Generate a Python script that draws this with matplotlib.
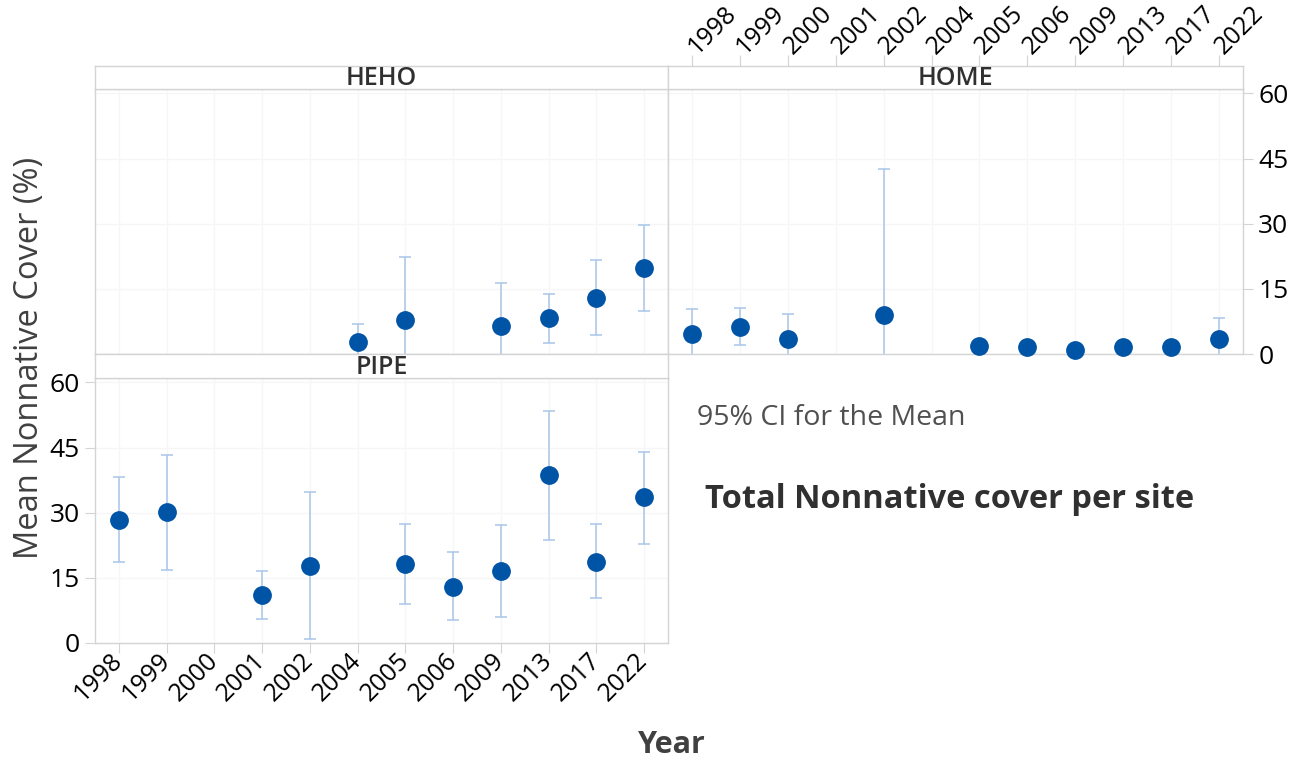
import numpy as np
import matplotlib
matplotlib.use("Agg")
import matplotlib.pyplot as plt

plt.rcParams['font.family'] = ['Open Sans', 'DejaVu Sans']

# ---------------- data ----------------
years = ["1998", "1999", "2000", "2001", "2002", "2004",
         "2005", "2006", "2009", "2013", "2017", "2022"]

nan = np.nan
heho_mean = [nan, nan, nan, nan, nan, 2.7, 7.9, nan, 6.5, 8.2, 13.0, 19.9]
heho_lo   = [nan, nan, nan, nan, nan, -1.4, -6.5, nan, -3.3, 2.5, 4.4, 10.0]
heho_hi   = [nan, nan, nan, nan, nan, 6.8, 22.3, nan, 16.3, 13.9, 21.7, 29.8]

home_mean = [4.6, 6.2, 3.4, nan, 9.0, nan, 1.8, 1.5, 0.9, 1.5, 1.5, 3.4]
home_lo   = [-1.1, 2.1, -2.4, nan, -24.5, nan, nan, nan, nan, nan, nan, -1.5]
home_hi   = [10.3, 10.5, 9.2, nan, 42.5, nan, nan, nan, nan, nan, nan, 8.3]

pipe_mean = [28.4, 30.1, nan, 11.0, 17.7, nan, 18.1, 13.0, 16.6, 38.6, 18.7, 33.5]
pipe_lo   = [18.6, 16.9, nan, 5.6, 1.0, nan, 9.0, 5.4, 6.1, 23.8, 10.3, 22.9]
pipe_hi   = [38.3, 43.3, nan, 16.5, 34.7, nan, 27.4, 20.9, 27.1, 53.4, 27.3, 44.0]

y_ticks = [0, 15, 30, 45, 60]

# ---------------- style ----------------
W, H = 1300, 763
dot_color = '#0054a6'
bar_color = '#a9c6e8'
frame_color = '#d4d4d4'
grid_color = '#f6f6f6'
tick_fs = 18


def fr(x0, y0, x1, y1):
    # pixel box -> figure fraction rect
    return [x0 / W, 1 - y1 / H, (x1 - x0) / W, (y1 - y0) / H]


def draw_panel(ax, mean, lo, hi):
    x = np.arange(len(years))
    mean = np.array(mean); lo = np.array(lo); hi = np.array(hi)
    ax.set_xlim(-0.5, len(years) - 0.5)
    ax.set_ylim(0, 61)
    ax.set_xticks(x)
    ax.set_yticks(y_ticks)
    ax.grid(True, color=grid_color, lw=0.9)
    ax.set_axisbelow(True)
    for s in ax.spines.values():
        s.set_color(frame_color)
        s.set_linewidth(1.0)
    ax.tick_params(length=0, labelbottom=False, labelleft=False)

    m = ~np.isnan(lo)
    ax.errorbar(x[m], mean[m], yerr=[mean[m] - lo[m], hi[m] - mean[m]],
                fmt='none', ecolor=bar_color, elinewidth=1.1, capsize=4,
                capthick=1.1, zorder=2)
    k = ~np.isnan(mean)
    ax.plot(x[k], mean[k], 'o', ms=12.5, color=dot_color, mec=dot_color,
            clip_on=False, zorder=3)


def strip(rect, label):
    sa = fig.add_axes(rect)
    sa.set_xlim(-0.5, len(years) - 0.5)
    sa.set_ylim(0, 1)
    sa.set_yticks([])
    sa.set_xticks([])
    for s in sa.spines.values():
        s.set_color(frame_color)
        s.set_linewidth(1.0)
    sa.text(0.5, 0.45, label, transform=sa.transAxes, ha='center', va='center',
            fontsize=18, fontweight='semibold', color='#303030')
    return sa


fig = plt.figure(figsize=(W / 100, H / 100), dpi=100)
fig.patch.set_facecolor('white')

ax_heho = fig.add_axes(fr(95, 89, 668, 354))
ax_home = fig.add_axes(fr(668, 89, 1243, 354))
ax_pipe = fig.add_axes(fr(95, 378, 668, 643))

draw_panel(ax_heho, heho_mean, heho_lo, heho_hi)
draw_panel(ax_home, home_mean, home_lo, home_hi)
draw_panel(ax_pipe, pipe_mean, pipe_lo, pipe_hi)

strip(fr(95, 66, 668, 89), "HEHO")
home_strip = strip(fr(668, 66, 1243, 89), "HOME")
strip(fr(95, 354, 668, 378), "PIPE")

# HOME: year labels on top of its strip, y labels on the right
home_strip.set_xticks(np.arange(len(years)))
home_strip.set_xticklabels(years)
home_strip.tick_params(axis='x', top=True, labeltop=True, bottom=False,
                       labelbottom=False, direction='out', length=8,
                       color=frame_color, labelsize=tick_fs, pad=3)
for t in home_strip.get_xticklabels():
    t.set_rotation(45)
    t.set_ha('left')
    t.set_va('center')
    t.set_rotation_mode('anchor')

ax_home.tick_params(axis='y', right=True, labelright=True, left=False,
                    direction='out', length=7, color=frame_color,
                    labelsize=tick_fs + 1, pad=4)

# PIPE: years on bottom, y labels on the left
ax_pipe.set_xticklabels(years)
ax_pipe.tick_params(axis='x', bottom=True, labelbottom=True, direction='out',
                    length=7, color=frame_color, labelsize=tick_fs, pad=3)
for t in ax_pipe.get_xticklabels():
    t.set_rotation(45)
    t.set_ha('right')
    t.set_va('center')
    t.set_rotation_mode('anchor')
ax_pipe.tick_params(axis='y', left=True, labelleft=True, direction='out',
                    length=7, color=frame_color, labelsize=tick_fs + 1, pad=4)

# titles and notes
fig.text(30 / W, 1 - 358 / H, "Mean Nonnative Cover (%)", rotation=90,
         ha='center', va='center', fontsize=23.5, color='#404040')
fig.text(672 / W, 1 - 745 / H, "Year", ha='center', va='center',
         fontsize=22, fontweight='bold', color='#404040')
fig.text(697 / W, 1 - 418 / H, "95% CI for the Mean", ha='left', va='center',
         fontsize=20.5, color='#505050')
fig.text(705 / W, 1 - 500 / H, "Total Nonnative cover per site", ha='left',
         va='center', fontsize=23.5, fontweight='bold', color='#303030')

fig.savefig("out.png", dpi=100, facecolor='white')
